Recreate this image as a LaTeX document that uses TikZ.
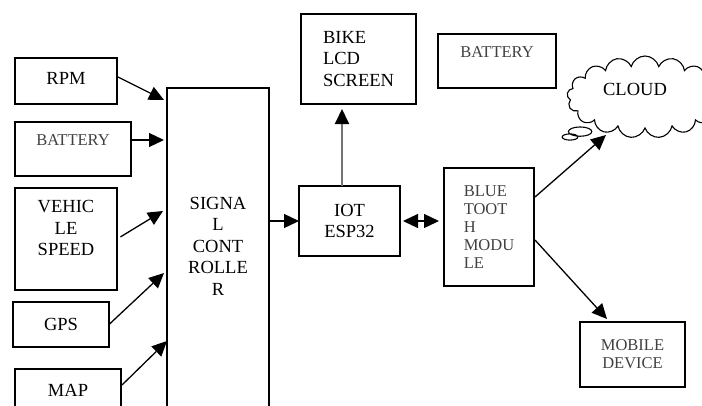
\documentclass[tikz,border=0pt]{standalone}
\usepackage{fontspec}
\setmainfont{Liberation Serif}
\usetikzlibrary{arrows.meta,shapes.callouts}
\tikzset{
    blockbox/.style={draw, line width=1.1pt, inner sep=0pt, outer sep=0pt, font=\fontsize{18.5}{21.5}\selectfont, align=center},
    smallbox/.style={blockbox, text=black!75, font=\fontsize{16.5}{18}\selectfont},
    arrowline/.style={line width=1.3pt, -{Triangle[length=15pt,width=14pt,color=black]}},
    bothline/.style={line width=1.3pt, {Triangle[length=15pt,width=14pt]}-{Triangle[length=15pt,width=14pt]}},
}
\begin{document}
\begin{tikzpicture}[x=1pt, y=-1pt]
    \clip (0,0) rectangle (702,405);

    % Inputs
    \node[blockbox, text depth=6pt, minimum width=102pt, minimum height=46pt] (rpm) at (66,81) {RPM};
    \node[smallbox, minimum width=116pt, minimum height=54pt] (battin) at (73,149) {BATTERY\\~};
    \node[blockbox, minimum width=102pt, minimum height=102pt] (speed) at (66,239) {VEHIC\\LE\\SPEED\\~};
    \node[blockbox, minimum width=96pt, minimum height=45pt] (gps) at (61,324.5) {GPS};
    \node[blockbox, minimum width=106pt, minimum height=42pt] (map) at (68,390) {MAP};

    % Controller and outputs
    \node[blockbox, minimum width=102pt, minimum height=324pt] (signal) at (218,250) {SIGNA\\L\\CONT\\ROLLE\\R\\[-13.5pt]~};
    \node[blockbox, align=left, minimum width=115pt, minimum height=90pt] (lcd) at (358.5,59) {BIKE\\LCD\\SCREEN};
    \node[smallbox, minimum width=118pt, minimum height=54pt] (battout) at (497,61) {BATTERY\\~};
    \node[blockbox, minimum width=101pt, minimum height=70pt] (iot) at (349.5,221) {IOT\\ESP32};
    \node[smallbox, align=left, minimum width=90pt, minimum height=118pt] (bluetooth) at (489,227) {BLUE\\TOOT\\H\\MODU\\LE};
    \node[smallbox, minimum width=105pt, minimum height=65pt] (mobile) at (632.5,354.5) {MOBILE\\DEVICE};
    \node[blockbox, cloud callout, cloud puffs=17, cloud ignores aspect, minimum width=156pt, minimum height=82pt,
        callout absolute pointer={(570,137)}] (cloud) at (645,97) {CLOUD\rule{20pt}{0pt}\\[-6pt]~};

    % Connector ends
    \coordinate (inrpm) at (164,100);
    \coordinate (inbatt) at (164,140);
    \coordinate (inspeed) at (163,211);
    \coordinate (ingps) at (164,273);
    \coordinate (inmap) at (167,341);
    \coordinate (outmap) at (122,385);
    \coordinate (inlcd) at (342,109);
    \coordinate (incloud) at (606,135);
    \coordinate (inmobile) at (607,319);
    \coordinate (btup) at (535,197);
    \coordinate (btdown) at (535,240);

    \draw[arrowline] (rpm.east) ++(1,-4) -- (inrpm);
    \draw[arrowline] (battin.east |- inbatt) -- (inbatt);
    \draw[arrowline, shorten <=4pt] (speed.east) -- (inspeed);
    \draw[arrowline] (gps.east) -- (ingps);
    \draw[arrowline] (outmap) -- (inmap);
    \draw[arrowline] (signal.east |- iot.west) -- (iot.west);
    \draw[arrowline, draw=black!55, line width=2pt] (iot.north -| inlcd) -- (inlcd);
    \draw[bothline] ([xshift=3pt]iot.east) -- ([xshift=-5pt]bluetooth.west |- iot.east);
    \draw[arrowline] (btup) -- (incloud);
    \draw[arrowline] (btdown) -- (inmobile);
\end{tikzpicture}
\end{document}
